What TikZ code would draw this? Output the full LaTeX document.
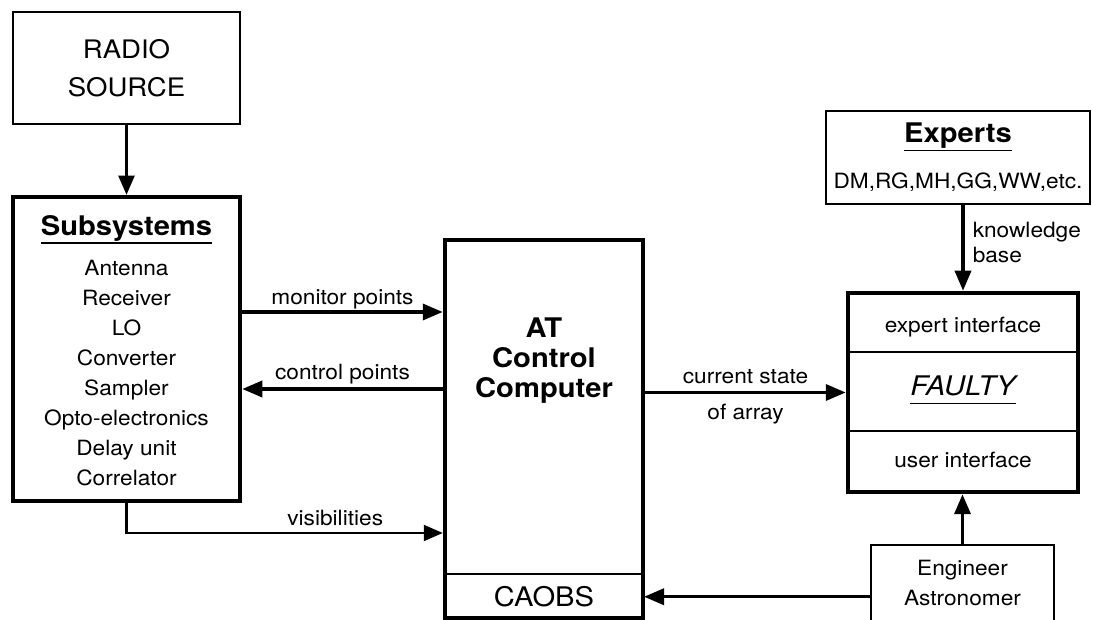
\documentclass[tikz,border=0pt]{standalone}
\usepackage{fontspec}
\setmainfont{TeX Gyre Heros}[FakeStretch=1.08]
\usetikzlibrary{arrows.meta,positioning,calc}
\newcommand{\txts}{\fontsize{21}{30}\selectfont}
\newcommand{\txtl}{\fontsize{27}{30}\selectfont}
\newcommand{\hdr}[1]{\setbox0\hbox{#1}\copy0\llap{\rule[-8.5pt]{\wd0}{1.6pt}}}

\begin{document}
\begin{tikzpicture}[x=1pt, y=1pt,
    thinbox/.style={rectangle, draw, line width=2.5pt, inner sep=0pt, align=center},
    thickbox/.style={rectangle, draw, line width=4.5pt, inner sep=0pt, align=center},
    partline/.style={line width=2pt},
    arr/.style={-{Triangle[length=20pt,width=16pt]}, line width=3.5pt},
    thinarr/.style={-{Triangle[length=19pt,width=16pt]}, line width=2.2pt},
    lbl/.style={font=\txts, inner sep=1.5pt}
]
\useasboundingbox (0,0) rectangle (1093,620);
\clip (0,0) rectangle (1093,620);

% left column
\node[thinbox, minimum width=227pt, minimum height=112pt, font=\fontsize{25.5}{37.5}\selectfont] (radio) at (126.5,552) {RADIO\\SOURCE};
\node[thickbox, minimum width=227pt, minimum height=304pt] (subsys) at (126.5,271) {};
\node[below=20.5pt of subsys.north, inner sep=0pt, align=center, font=\txts] (sublist)
    {\hdr{\txtl\bfseries Subsystems}\\[10pt]Antenna\\Receiver\\LO\\Converter\\Sampler\\Opto-electronics\\Delay unit\\Correlator};

% control computer
\node[thickbox, minimum width=198pt, minimum height=378pt] (comp) at (544,191) {};
\node[thinbox, line width=2pt, minimum width=198pt, minimum height=45pt, anchor=south, font=\txtl] (caobs) at (comp.south) {CAOBS};
\node[below=80pt of comp.north, inner sep=0pt, align=center, font=\txtl\bfseries] (comptext) {AT\\Control\\Computer};

% right column
\node[thinbox, minimum width=264pt, minimum height=93pt, font=\txts] (experts) at (958,462.5)
    {\hdr{\txtl\bfseries Experts}\\[16pt]DM,RG,MH,GG,WW,etc.};
\node[thickbox, minimum width=230pt, minimum height=199pt] (faulty) at (963,227.5) {};
\draw[partline] ([yshift=-61pt]faulty.north west) -- ([yshift=-61pt]faulty.north east);
\draw[partline] ([yshift=63pt]faulty.south west) -- ([yshift=63pt]faulty.south east);
\node[anchor=base, font=\txts] (expint) at ([yshift=-42pt]faulty.north) {expert interface};
\node[anchor=base, font=\txtl\itshape] (faultyname) at ([yshift=-105pt]faulty.north) {\hdr{FAULTY}};
\node[anchor=base, font=\txts] (userint) at ([yshift=-177pt]faulty.north) {user interface};
\node[thinbox, minimum width=183pt, minimum height=115pt] (eng) at (962.5,17.5) {};
\node[below=16.5pt of eng.north, inner sep=0pt, align=center, font=\txts] (engtext) {Engineer\\Astronomer};

% connectors
\draw[thinarr] (radio) -- (subsys);
\draw[arr] ([yshift=37pt]subsys.east) -- ([yshift=37pt]subsys.east -| comp.west)
    node[lbl, midway, above] {monitor points};
\draw[arr] ([yshift=-40pt]subsys.east -| comp.west) -- ([yshift=-40pt]subsys.east)
    node[lbl, midway, above=2pt] {control points};
\draw[thinarr] (subsys.south) |- ([yshift=-104pt]comp.west)
    node[lbl, pos=0.83, above=5pt] {visibilities};
\draw[arr] (comp.east |- faulty.west) -- (faulty.west)
    node[lbl, midway, above=5pt] {current state}
    node[lbl, midway, below=8pt] {of array};
\draw[arr] (eng.west |- caobs.east) -- (caobs.east);
\draw[arr] (faulty.north |- experts.south) -- (faulty.north)
    node[pos=0.44, right, align=left, font=\fontsize{21}{25}\selectfont, inner xsep=8pt, inner ysep=0pt] (kb) {knowledge\\base};
\draw[arr] (eng.north) -- (eng.north |- faulty.south);
\end{tikzpicture}
\end{document}
